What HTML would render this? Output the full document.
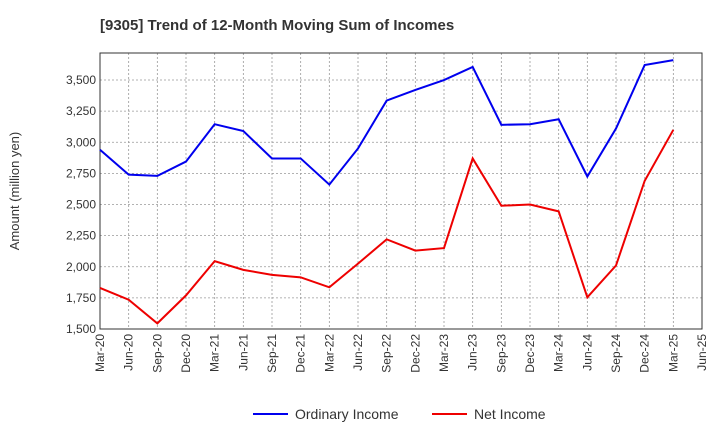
<!DOCTYPE html>
<html><head><meta charset="utf-8"><style>
body{margin:0;background:#fff;font-family:"Liberation Sans",sans-serif;}
</style></head><body>
<svg id="chart" width="720" height="440" xmlns="http://www.w3.org/2000/svg" font-family="Liberation Sans, sans-serif">
<text x="100" y="30" font-size="15" font-weight="bold" fill="#333">[9305]  Trend of 12-Month Moving Sum of Incomes</text>
<text transform="translate(19,191) rotate(-90)" text-anchor="middle" font-size="13" fill="#333">Amount (million yen)</text>
<g id="grid"></g><g id="axes"></g><g id="series"></g>
<g>
<line x1="253" y1="414" x2="288" y2="414" stroke="#0000ee" stroke-width="2"/>
<text x="295" y="419" font-size="14" fill="#333">Ordinary Income</text>
<line x1="432" y1="414" x2="467" y2="414" stroke="#ee0000" stroke-width="2"/>
<text x="474" y="419" font-size="14" fill="#333">Net Income</text>
</g>
</svg>
<script>
const categories=["Mar-20","Jun-20","Sep-20","Dec-20","Mar-21","Jun-21","Sep-21","Dec-21","Mar-22","Jun-22","Sep-22","Dec-22","Mar-23","Jun-23","Sep-23","Dec-23","Mar-24","Jun-24","Sep-24","Dec-24","Mar-25","Jun-25"];
const ordinaryIncome=[2940,2740,2730,2845,3145,3090,2870,2870,2660,2950,3335,3420,3500,3605,3140,3145,3185,2725,3110,3620,3660];
const netIncome=[1830,1735,1545,1770,2045,1975,1935,1915,1835,2025,2220,2130,2150,2870,2490,2500,2445,1755,2010,2690,3100];
const yTicks=[1500,1750,2000,2250,2500,2750,3000,3250,3500];
const L=100,R=702,T=53,B=329,ymin=1500,ymax=3717;
const x=i=>L+i*(R-L)/(categories.length-1);
const y=v=>B-(v-ymin)*(B-T)/(ymax-ymin);
const NS="http://www.w3.org/2000/svg";
function mk(t,a,p){const e=document.createElementNS(NS,t);for(const k in a)e.setAttribute(k,a[k]);p.appendChild(e);return e;}
const grid=document.getElementById('grid'),axes=document.getElementById('axes'),ser=document.getElementById('series');
yTicks.forEach(v=>{
 const g=mk('line',{x1:L,x2:R,y1:y(v),y2:y(v),stroke:'#999','stroke-dasharray':'2,2','stroke-width':0.8},grid);
 
 
 const t=mk('text',{x:L-4,y:y(v)+4,'text-anchor':'end','font-size':12,fill:'#333'},axes);
 t.textContent=v.toLocaleString('en-US');
 
 
});
categories.forEach((c,i)=>{
 const g=mk('line',{x1:x(i),x2:x(i),y1:T,y2:B,stroke:'#999','stroke-dasharray':'2,2','stroke-width':0.8},grid);
 
 
 const t=mk('text',{transform:`translate(${x(i)+4},${B+5}) rotate(-90)`,'text-anchor':'end','font-size':12,fill:'#333'},axes);
 t.textContent=c;
 
 
});
const frame=mk('rect',{x:L,y:T,width:R-L,height:B-T,fill:'none',stroke:'#333','stroke-width':1},axes);


const p1=mk('polyline',{points:ordinaryIncome.map((v,i)=>x(i)+','+y(v)).join(' '),fill:'none',stroke:'#0000ee','stroke-width':2},ser);


const p2=mk('polyline',{points:netIncome.map((v,i)=>x(i)+','+y(v)).join(' '),fill:'none',stroke:'#ee0000','stroke-width':2},ser);


</script>
</body></html>
